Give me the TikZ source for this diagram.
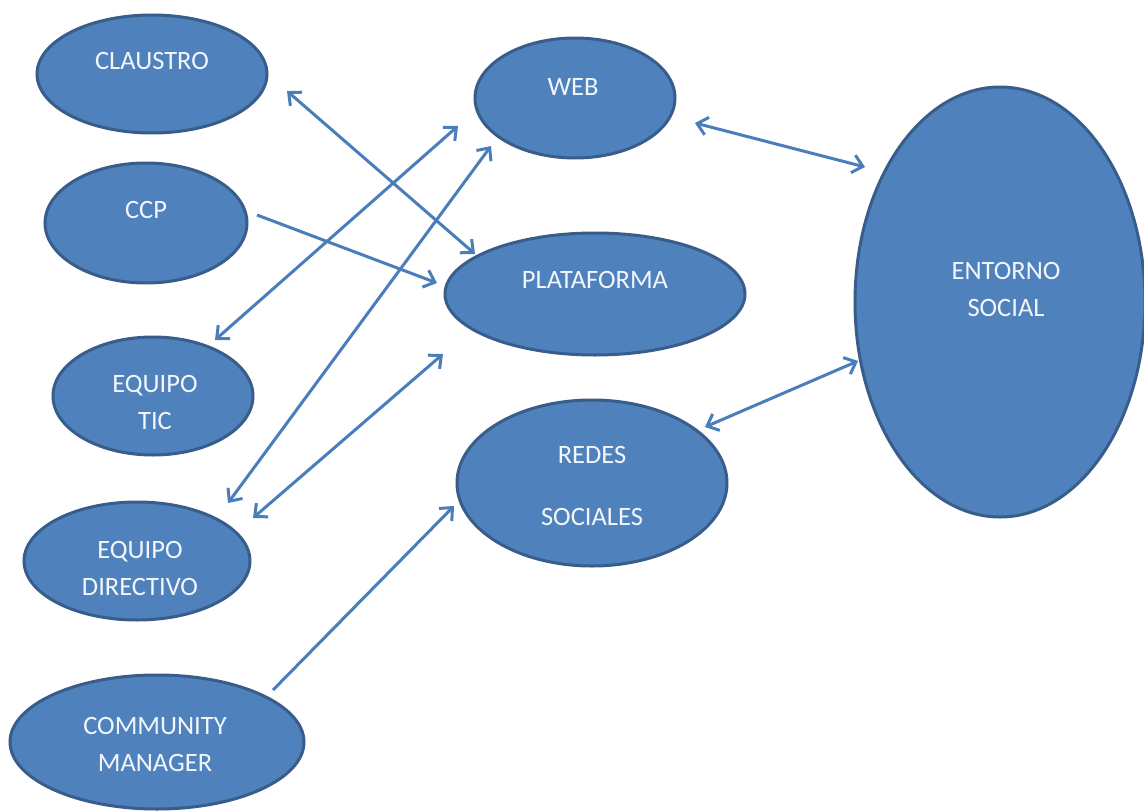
\documentclass[tikz,border=0pt]{standalone}
\usepackage{fontspec}
\setmainfont{Carlito}
\usetikzlibrary{shapes.geometric,arrows.meta,calc}
\definecolor{ellfill}{HTML}{4F81BD}
\definecolor{elldraw}{HTML}{385D8A}
\definecolor{arrcol}{HTML}{4A7EBB}
\definecolor{txtcol}{HTML}{F2F6FB}
\tikzset{
  ell/.style={ellipse,draw=elldraw,fill=ellfill,line width=3pt,inner sep=0pt},
  lbl/.style={text=txtcol,align=center,font=\fontsize{26.5}{37}\selectfont,inner sep=0pt},
  conn/.style={draw=arrcol,line width=3pt,arrows={-Straight Barb[length=10pt,width=18pt]}},
  bconn/.style={draw=arrcol,line width=3pt,arrows={Straight Barb[length=10pt,width=18pt]-Straight Barb[length=10pt,width=18pt]}}
}
\begin{document}
\begin{tikzpicture}[x=1pt,y=-1pt]
\useasboundingbox[fill=white] (0,0) rectangle (1144,811);
% ellipses
\node[ell,minimum width=230pt,minimum height=118pt] (claustro) at (152,74) {};
\node[ell,minimum width=202pt,minimum height=120pt] (ccp) at (146,223) {};
\node[ell,minimum width=200pt,minimum height=118pt] (eqtic) at (153,396) {};
\node[ell,minimum width=226pt,minimum height=118pt] (eqdir) at (137,561) {};
\node[ell,minimum width=294pt,minimum height=134pt] (comm) at (157,742) {};
\node[ell,minimum width=200pt,minimum height=120pt] (web) at (575,98) {};
\node[ell,minimum width=300pt,minimum height=122pt] (plat) at (595,294) {};
\node[ell,minimum width=270pt,minimum height=166pt] (redes) at (592,483) {};
\node[ell,minimum width=290pt,minimum height=430pt] (ent) at (1000,302) {};
% labels
\node[lbl] (tclaustro) at ($(claustro)+(0,-13)$) {CLAUSTRO};
\node[lbl] (tccp) at ($(ccp)+(0,-13)$) {CCP};
\node[lbl] (teqtic) at (155,402) {EQUIPO\\TIC};
\node[lbl] (teqdir) at (140,568) {EQUIPO\\DIRECTIVO};
\node[lbl] (tcomm) at (155,744) {COMMUNITY\\MANAGER};
\node[lbl] (tweb) at (573,87) {WEB};
\node[lbl] (tplat) at (595,280) {PLATAFORMA};
\node[lbl,font=\fontsize{26.5}{62}\selectfont] (tredes) at (592,486) {REDES\\SOCIALES};
\node[lbl] (tent) at (1006,289) {ENTORNO\\SOCIAL};
% connectors
\draw[bconn] ($(claustro)+(135,17)$) -- ($(plat)+(-120,-40)$);
\draw[conn] ($(ccp)+(111,-8)$) -- ($(plat)+(-158,-11)$);
\draw[bconn] ($(web)+(-117,28)$) -- ($(eqtic)+(62,-56)$);
\draw[bconn] ($(web)+(-84,48)$) -- ($(eqdir)+(91,-58)$);
\draw[bconn] ($(plat)+(-152,60)$) -- ($(eqdir)+(116,-43)$);
\draw[conn] ($(comm)+(116,-52)$) -- ($(redes)+(-138,23)$);
\draw[bconn] ($(web)+(120,25)$) -- ($(ent)+(-135,-135)$);
\draw[bconn] ($(redes)+(113,-56)$) -- ($(ent)+(-142,59)$);
\end{tikzpicture}
\end{document}
